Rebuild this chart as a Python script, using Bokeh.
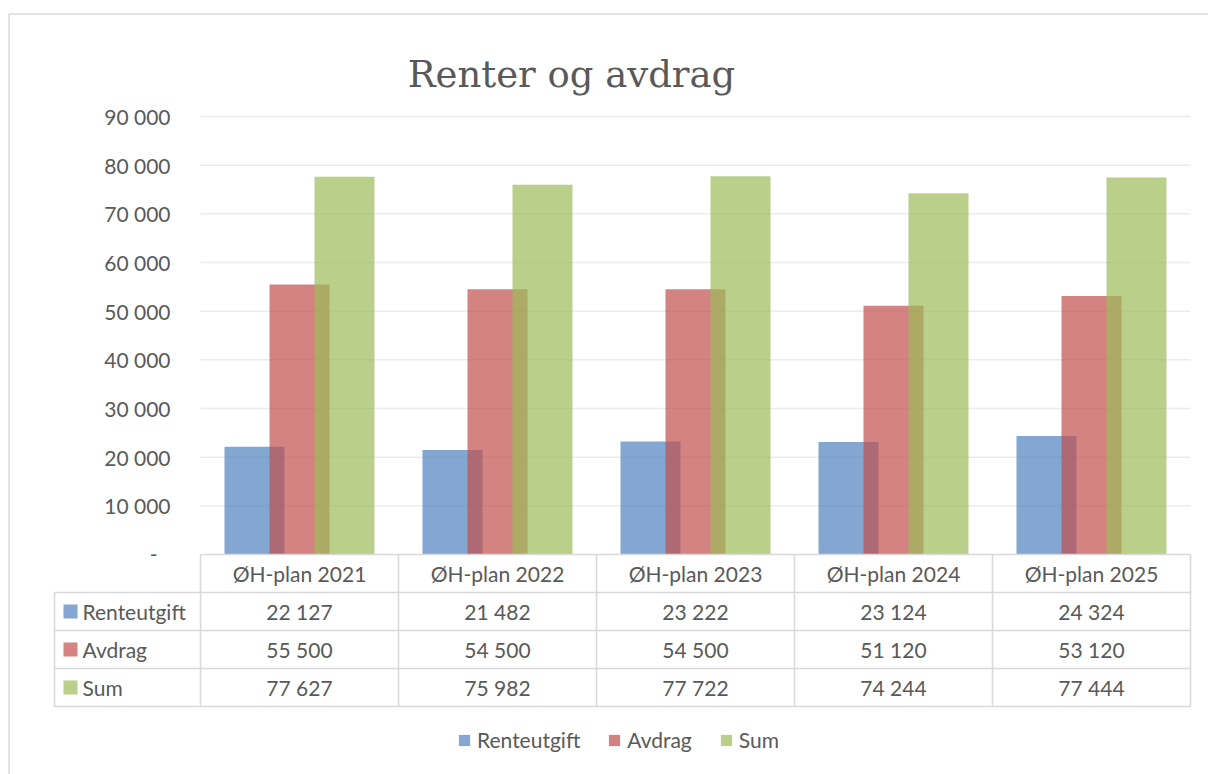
from bokeh.plotting import figure
from bokeh.models import Range1d, ColumnDataSource, Legend, LegendItem
from bokeh.core.properties import value
from bokeh.embed import file_html
from bokeh.resources import INLINE

# ---------------- data ----------------
categories = ["ØH-plan 2021", "ØH-plan 2022", "ØH-plan 2023", "ØH-plan 2024", "ØH-plan 2025"]
series_names = ["Renteutgift", "Avdrag", "Sum"]
renteutgift = [22127, 21482, 23222, 23124, 24324]
avdrag = [55500, 54500, 54500, 51120, 53120]
sum_values = [77627, 75982, 77722, 74244, 77444]
y_ticks = [0, 10000, 20000, 30000, 40000, 50000, 60000, 70000, 80000, 90000]
y_tick_labels = ["-", "10 000", "20 000", "30 000", "40 000", "50 000",
                 "60 000", "70 000", "80 000", "90 000"]
title_text = "Renter og avdrag"

# ---------------- layout (pixels) ----------------
W, H = 1208, 774
PLOT_L, PLOT_R = 200, 1190
N = len(categories)
CAT_W = (PLOT_R - PLOT_L) / N
Y0_PX, YTOP_PX = 554, 116
VPP = 90000 / (Y0_PX - YTOP_PX)
ROW = 38

def X(px):
    return (px - PLOT_L) / CAT_W

def T(px):
    return (Y0_PX - px) / ROW

FONT = "Lato"
FS = "21px"
TXT = "#595959"
GRID = "#ececec"
LINE = "#d9d9d9"
colors = ["#4F81BD", "#C0504D", "#9BBB59"]
ALPHA = 0.7

p = figure(width=W, height=H, output_backend="svg", toolbar_location=None,
           x_range=Range1d(X(0), X(W)),
           y_range=Range1d((Y0_PX - H) * VPP, Y0_PX * VPP),
           min_border=0, min_border_left=0, min_border_right=0,
           min_border_top=0, min_border_bottom=0,
           x_axis_location=None, y_axis_location=None)
p.extra_y_ranges = {"tbl": Range1d(T(H), T(0))}
p.grid.visible = False
p.outline_line_color = None
p.background_fill_color = "white"
p.border_fill_color = "white"

# outer chart border (left and top)
p.segment(x0=[X(8.5), X(8.5)], y0=[T(13.5), T(13.5)], x1=[X(8.5), X(W)], y1=[T(H), T(13.5)],
          line_color=LINE, line_width=1.5, y_range_name="tbl")

# title
p.text(x=[X(571)], y=[T(74)], text=[title_text], text_font=value("DejaVu Serif"),
       text_font_size="37px", text_color=TXT, text_align="center",
       text_baseline="middle", y_range_name="tbl")

# gridlines
gy = y_ticks[1:]
p.segment(x0=[0] * len(gy), x1=[N] * len(gy), y0=gy, y1=gy, line_color=GRID, line_width=1.5)

# y tick labels
offs = [-43 if lab == "-" else -30 for lab in y_tick_labels]
p.text(x=[0] * len(y_ticks), y=y_ticks, text=y_tick_labels, x_offset=offs,
       text_font=value(FONT), text_font_size=FS, text_color=TXT,
       text_align="right", text_baseline="middle")

# bars
cx = [i + 0.5 for i in range(N)]
bw = 60 / CAT_W
shift = 45 / CAT_W
renderers = []
for k, (vals, name) in enumerate(zip([renteutgift, avdrag, sum_values], series_names)):
    src = ColumnDataSource(dict(x=[c + (k - 1) * shift for c in cx], top=vals))
    r = p.vbar(x="x", top="top", width=bw, bottom=0, source=src,
               fill_color=colors[k], fill_alpha=ALPHA, line_color=None)
    renderers.append(r)

# data table lines
xl = X(54)
hx0 = [0, xl, xl, xl, xl]
hy = [0, -1, -2, -3, -4]
p.segment(x0=hx0, x1=[N] * 5, y0=hy, y1=hy, line_color=LINE, line_width=1.6, y_range_name="tbl")
vx = list(range(N + 1)) + [xl]
p.segment(x0=vx, x1=vx, y0=[0] * (N + 1) + [-1], y1=[-4] * (N + 2),
          line_color=LINE, line_width=1.6, y_range_name="tbl")

# header row
p.text(x=cx, y=[-0.5] * N, text=categories, text_font=value(FONT), text_font_size=FS,
       text_color=TXT, text_align="center", text_baseline="middle", y_range_name="tbl")

def fmt(v):
    return f"{v:,}".replace(",", " ")

for k, vals in enumerate([renteutgift, avdrag, sum_values]):
    yy = -1.5 - k
    p.text(x=cx, y=[yy] * N, text=[fmt(v) for v in vals], text_font=value(FONT),
           text_font_size=FS, text_color=TXT, text_align="center",
           text_baseline="middle", y_range_name="tbl")
    p.scatter(x=[X(70)], y=[yy], marker="square", size=14,
              fill_color=colors[k], fill_alpha=ALPHA, line_color=None, y_range_name="tbl")
    p.text(x=[0], y=[yy], x_offset=-118, text=[series_names[k]], text_font=value(FONT),
           text_font_size=FS, text_color=TXT, text_align="left",
           text_baseline="middle", y_range_name="tbl")

# legend
legend = Legend(items=[LegendItem(label=n, renderers=[r]) for n, r in zip(series_names, renderers)],
                orientation="horizontal", location=(457, 22), padding=0, margin=0,
                spacing=27, glyph_width=14, glyph_height=14, label_standoff=6,
                label_text_font=FONT, label_text_font_size=FS, label_text_color=TXT,
                label_height=20, border_line_color=None, background_fill_alpha=0)
p.add_layout(legend)

open("out.html", "w").write(file_html(p, INLINE))
